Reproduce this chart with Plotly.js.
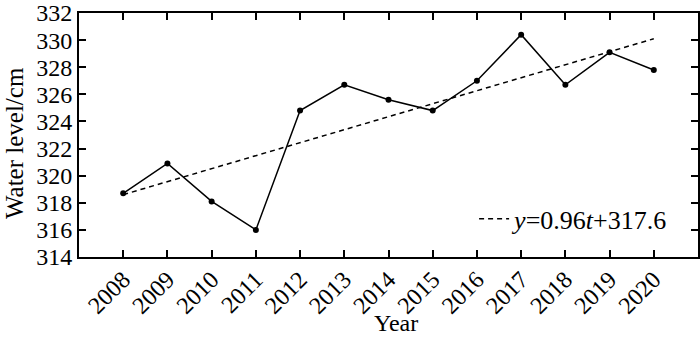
<!DOCTYPE html>
<html>
<head>
<meta charset="utf-8">
<script src="https://cdn.plot.ly/plotly-3.0.1.min.js"></script>
<style>html,body{margin:0;padding:0;background:#fff;}#chart{width:700px;height:337px;}</style>
</head>
<body>
<div id="chart"></div>
<script>
var years = [2008, 2009, 2010, 2011, 2012, 2013, 2014, 2015, 2016, 2017, 2018, 2019, 2020];
var waterLevel = [318.7, 320.9, 318.1, 316.0, 324.8, 326.7, 325.6, 324.8, 327.0, 330.4, 326.7, 329.1, 327.8];
var trendYears = [2008, 2020];
var trendValues = [318.6, 330.1];
var trendLabel = '<i>y</i>=0.96<i>t</i>+317.6';
var yTicks = [314, 316, 318, 320, 322, 324, 326, 328, 330, 332];
var xTitle = 'Year';
var yTitle = 'Water level/cm';

var font = 'Liberation Serif, Times New Roman, serif';

var traces = [
  {
    x: years, y: waterLevel, type: 'scatter', mode: 'lines+markers',
    line: {color: '#000', width: 1.5},
    marker: {color: '#000', size: 6},
    showlegend: false
  },
  {
    x: trendYears, y: trendValues, type: 'scatter', mode: 'lines',
    line: {color: '#000', width: 1.5, dash: '5px,4px'},
    name: trendLabel,
    showlegend: true
  }
];

var layout = {
  width: 700, height: 337,
  margin: {l: 79, r: 2, t: 13, b: 80},
  paper_bgcolor: '#fff', plot_bgcolor: '#fff',
  font: {family: font, size: 24, color: '#000'},
  xaxis: {
    range: [2007, 2021],
    tickvals: years,
    ticktext: years.map(String),
    tickangle: -45,
    ticks: 'inside', ticklen: 7, tickwidth: 2, tickcolor: '#000',
    ticklabelstandoff: -3,
    ticklabelshift: 0,
    showline: true, linewidth: 2, linecolor: '#000', mirror: 'ticks',
    showgrid: false, zeroline: false,
    tickfont: {family: font, size: 24}
  },
  yaxis: {
    range: [314, 332],
    tickvals: yTicks,
    ticks: 'inside', ticklen: 7, tickwidth: 2, tickcolor: '#000',
    showline: true, linewidth: 2, linecolor: '#000', mirror: 'ticks',
    showgrid: false, zeroline: false,
    tickfont: {family: font, size: 24}
  },
  legend: {
    x: 0.963, xanchor: 'right', y: 0.06, yanchor: 'bottom',
    bgcolor: 'rgba(0,0,0,0)', borderwidth: 0,
    font: {family: font, size: 26},
    itemwidth: 30
  },
  annotations: [
    {text: xTitle, xref: 'paper', yref: 'paper', x: 0.512, y: -0.328,
     xanchor: 'center', yanchor: 'bottom', showarrow: false, borderpad: 0,
     font: {family: font, size: 24, color: '#000'}},
    {text: yTitle, xref: 'paper', yref: 'paper', x: -0.105, y: 0.467,
     xanchor: 'center', yanchor: 'middle', showarrow: false, textangle: -90, borderpad: 0,
     font: {family: font, size: 25, color: '#000'}}
  ]
};

Plotly.newPlot('chart', traces, layout, {displayModeBar: false, staticPlot: true});
</script>
</body>
</html>
